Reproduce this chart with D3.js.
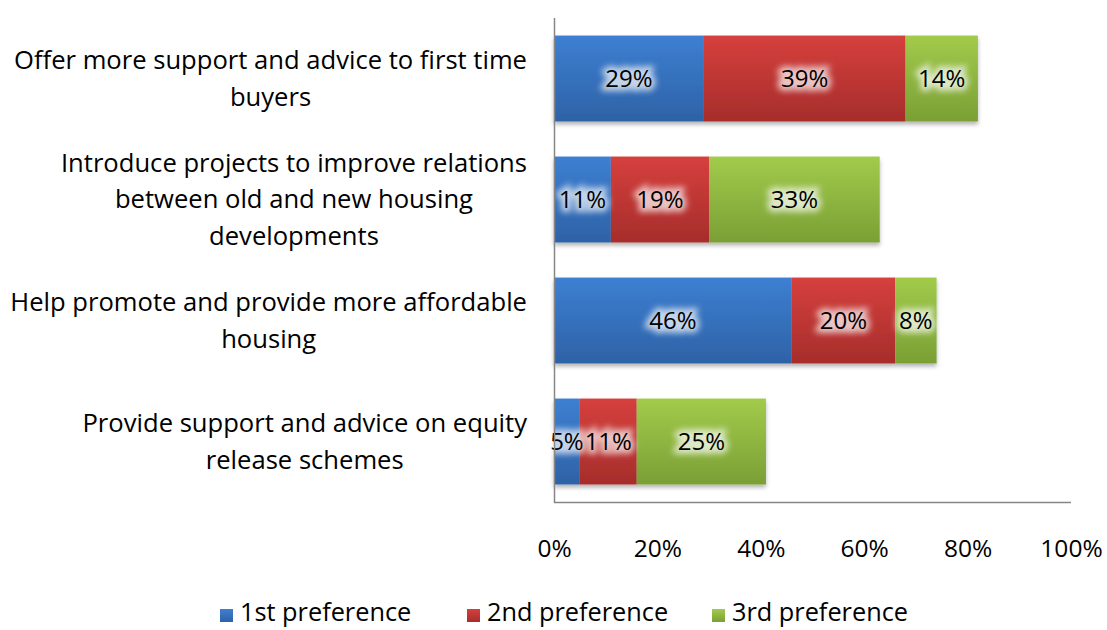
<!DOCTYPE html>
<html>
<head>
<meta charset="utf-8">
<script src="https://cdn.jsdelivr.net/npm/d3@7"></script>
<style>
  body { margin: 0; background: #fff; }
  text { font-family: "Open Sans", sans-serif; fill: #000; }
</style>
</head>
<body>
<svg width="1107" height="630"></svg>
<script>
// data
const categories = [
  ['Offer more support and advice to first time', 'buyers'],
  ['Introduce projects to improve relations', 'between old and new housing', 'developments'],
  ['Help promote and provide more affordable', 'housing'],
  ['Provide support and advice on equity', 'release schemes']
];
const seriesNames = ['1st preference', '2nd preference', '3rd preference'];
const first = [29, 11, 46, 5];
const second = [39, 19, 20, 11];
const third = [14, 33, 8, 25];
const ticks = [0, 20, 40, 60, 80, 100];

const colors = [
  ['#3d7fd2', '#2e62a6'],
  ['#d6403d', '#a62d2b'],
  ['#a2cb4b', '#7a9f35']
];

const svg = d3.select('svg');
const defs = svg.append('defs');

colors.forEach((c, i) => {
  const g = defs.append('linearGradient').attr('id', 'grad' + i)
    .attr('x1', 0).attr('y1', 0).attr('x2', 0).attr('y2', 1);
  g.append('stop').attr('offset', '0%').attr('stop-color', c[0]);
  g.append('stop').attr('offset', '100%').attr('stop-color', c[1]);
});

const shadow = defs.append('filter').attr('id', 'shadow')
  .attr('x', '-5%').attr('y', '-5%').attr('width', '110%').attr('height', '130%');
shadow.append('feDropShadow').attr('dx', 0).attr('dy', 3).attr('stdDeviation', 2)
  .attr('flood-color', '#000').attr('flood-opacity', 0.3);

const glow = defs.append('filter').attr('id', 'glow')
  .attr('x', '-30%').attr('y', '-50%').attr('width', '160%').attr('height', '200%');
glow.append('feGaussianBlur').attr('stdDeviation', 3);

const x = d3.scaleLinear().domain([0, 100]).range([554, 1071]);
const y = d3.scaleBand().domain(d3.range(categories.length))
  .range([18, 502]).paddingInner(0.29).paddingOuter(0.145);

// stacked data
const rows = categories.map((c, i) => ({ i, values: [first[i], second[i], third[i]] }));
const segs = [];
rows.forEach(r => {
  let acc = 0;
  r.values.forEach((v, s) => {
    segs.push({ row: r.i, s, v, x0: acc, x1: acc + v });
    acc += v;
  });
});

// bars
const barG = svg.append('g');
rows.forEach(r => {
  const rs = segs.filter(d => d.row === r.i);
  const g = barG.append('g').attr('filter', 'url(#shadow)');
  g.selectAll('rect').data(rs).enter().append('rect')
    .attr('x', d => x(d.x0))
    .attr('y', y(r.i))
    .attr('width', d => x(d.x1) - x(d.x0))
    .attr('height', y.bandwidth())
    .attr('fill', d => 'url(#grad' + d.s + ')');
});

// data labels with soft glow
const fs = 24;
const lab = svg.append('g');
segs.forEach(d => {
  const cx = (x(d.x0) + x(d.x1)) / 2;
  const cy = y(d.row) + y.bandwidth() / 2;
  lab.append('text')
    .attr('x', cx).attr('y', cy).attr('dy', '0.35em')
    .attr('text-anchor', 'middle')
    .attr('font-size', fs)
    .style('fill', '#fff').style('stroke', '#fff').style('stroke-width', 8)
    .attr('opacity', 0.7)
    .attr('filter', 'url(#glow)')
    .text(d.v + '%');
  lab.append('text')
    .attr('x', cx).attr('y', cy).attr('dy', '0.35em')
    .attr('text-anchor', 'middle')
    .attr('font-size', fs)
    .text(d.v + '%');
});

// axes lines
svg.append('line').attr('x1', 554.5).attr('x2', 554.5).attr('y1', 18).attr('y2', 503)
  .attr('stroke', '#868686').attr('stroke-width', 1.5);
svg.append('line').attr('x1', 554).attr('x2', 1071).attr('y1', 502.5).attr('y2', 502.5)
  .attr('stroke', '#868686').attr('stroke-width', 1.5);

// x tick labels
const xAxis = d3.axisBottom(x).tickValues(ticks).tickSize(0).tickPadding(0)
  .tickFormat(d => d + '%');
const ax = svg.append('g').attr('transform', 'translate(0,540)').call(xAxis);
ax.select('.domain').remove();
ax.selectAll('text').attr('font-size', 24.5).attr('font-family', '"Open Sans", sans-serif')
  .attr('fill', '#000');

// category labels, centred block with right edge at 527
const catG = svg.append('g');
categories.forEach((lines, i) => {
  const g = catG.append('g');
  const lh = 36.5;
  const cy = y(i) + y.bandwidth() / 2;
  const top = cy - (lines.length - 1) * lh / 2;
  const texts = lines.map((t, k) => g.append('text')
    .attr('y', top + k * lh).attr('dy', '0.35em')
    .attr('text-anchor', 'middle').attr('font-size', 25.6).text(t));
  const maxW = d3.max(texts, t => t.node().getComputedTextLength());
  texts.forEach(t => t.attr('x', 527 - maxW / 2));
});

// legend
const legX = [220, 467, 712];
const leg = svg.append('g');
seriesNames.forEach((n, i) => {
  leg.append('rect').attr('x', legX[i]).attr('y', 609).attr('width', 13).attr('height', 13)
    .attr('fill', 'url(#grad' + i + ')');
  leg.append('text').attr('x', legX[i] + 20).attr('y', 621)
    .attr('font-size', 25.3).text(n);
});
</script>
</body>
</html>
